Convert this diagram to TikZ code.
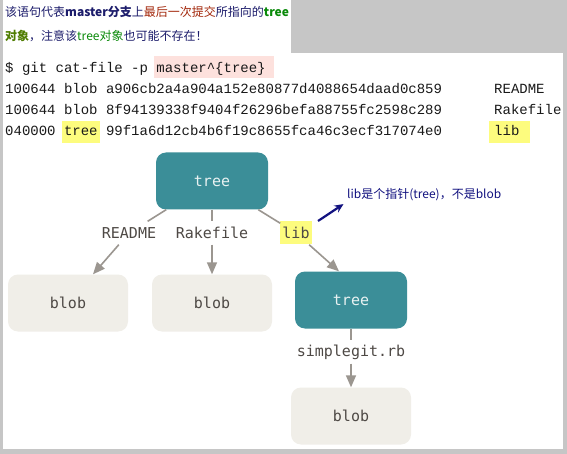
\documentclass[tikz,border=0pt]{standalone}
\usepackage{fontspec}
\usepackage{tikz}
\usetikzlibrary{arrows, arrows.meta}
\newfontfamily\cjk{Noto Sans CJK SC}
\newfontfamily\codefont{Liberation Mono}
\newfontfamily\diagfont{DejaVu Sans Mono}
\definecolor{titleNavy}{HTML}{1C1C6B}
\definecolor{titleRed}{HTML}{A3280C}
\definecolor{titleGreen}{HTML}{0A8A0A}
\definecolor{titleOlive}{HTML}{4F7D00}
\definecolor{treeTeal}{HTML}{3B8E98}
\definecolor{treeText}{HTML}{E9F2F2}
\definecolor{blobFill}{HTML}{F0EEE8}
\definecolor{inkGray}{HTML}{4E4945}
\definecolor{linkGray}{HTML}{9B9690}
\definecolor{markYellow}{HTML}{FDFC7E}
\definecolor{markPink}{HTML}{FDE1DD}
\definecolor{frameGray}{HTML}{C6C6C6}
\definecolor{noteNavy}{HTML}{121280}
\tikzstyle{treeBox} = [rectangle, rounded corners=10pt, fill=treeTeal, text=treeText,
   minimum width=112pt, minimum height=57pt, font=\diagfont\fontsize{15}{18}\selectfont]
\tikzstyle{blobBox} = [rectangle, rounded corners=10pt, fill=blobFill, text=inkGray,
   minimum width=120pt, minimum height=57pt, font=\diagfont\fontsize{15}{18}\selectfont]
\tikzstyle{edgeLabel} = [rectangle, inner sep=2pt, minimum height=23pt, text=inkGray,
   font=\diagfont\fontsize{15}{18}\selectfont]
\tikzstyle{codeLine} = [anchor=base west, inner sep=0pt, text=black!90,
   font=\codefont\fontsize{14}{16}\selectfont]
\tikzstyle{titleLine} = [anchor=base west, inner sep=0pt, text=titleNavy,
   font=\cjk\fontsize{12}{14}\selectfont]
\tikzstyle{linkLine} = [draw=linkGray, line width=1.6pt]
\tikzstyle{linkArrow} = [linkLine, -{Triangle[length=12pt,width=10pt]}]
\tikzstyle{noteArrow} = [draw=noteNavy, line width=2.2pt, -{Stealth[length=9pt,width=8pt]}, shorten >=3pt]

\begin{document}
\begin{tikzpicture}[x=1pt, y=-1pt]
  \useasboundingbox (0,0) rectangle (567,454);
  % frame and paper
  \fill[frameGray] (0,0) rectangle (567,454);
  \fill[white] (3,0) rectangle (291,53);
  \fill[white] (3,53) rectangle (563,449);

  \node[titleLine] (titleA) at (5,17) {该语句代表\textbf{master分支}上{\color{titleRed}最后一次提交}所指向的{\color{titleGreen}\textbf{tree}}};
  \node[titleLine] (titleB) at (5,41) {{\color{titleOlive}\textbf{对象}}，注意该{\color{titleGreen}tree对象}也可能不存在！};

  % highlights behind the command output
  \fill[markPink] (154,56) rectangle (274,78);
  \fill[markYellow] (61.5,121) rectangle (99.5,143);
  \fill[markYellow] (489,121) rectangle (530,143);

  \node[codeLine] (cmdLine) at (5,72.5) {\$ git cat-file -p master\textasciicircum\{tree\}};
  \node[codeLine] (rowA) at (5,93.5) {100644 blob a906cb2a4a904a152e80877d4088654daad0c859};
  \node[codeLine] (rowB) at (5,114.5) {100644 blob 8f94139338f9404f26296befa88755fc2598c289};
  \node[codeLine] (rowC) at (5,135.5) {040000 tree 99f1a6d12cb4b6f19c8655fca46c3ecf317074e0};
  \node[codeLine] (nameA) at (494,93.5) {README};
  \node[codeLine] (nameB) at (494,114.5) {Rakefile};
  \node[codeLine] (nameC) at (494,135.5) {lib};

  % tree diagram
  \node[treeBox] (rootTree) at (212,181) {tree};
  \node[edgeLabel] (readmeLbl) at (129,233) {README};
  \node[edgeLabel] (rakeLbl) at (212,233) {Rakefile};
  \node[edgeLabel, fill=markYellow] (libLbl) at (296,233) {lib};
  \node[blobBox] (readmeBlob) at (68,303) {blob};
  \node[blobBox, below of=rakeLbl, node distance=70pt] (rakeBlob) {blob};
  \node[treeBox] (libTree) at (351,300) {tree};
  \node[edgeLabel, below of=libTree, node distance=52pt] (simpleLbl) {simplegit.rb};
  \node[blobBox, below of=simpleLbl, node distance=64pt] (simpleBlob) {blob};

  \draw[linkLine] (rootTree) -- (readmeLbl);
  \draw[linkArrow] (readmeLbl) -- (readmeBlob);
  \draw[linkLine] (rootTree) -- (rakeLbl);
  \draw[linkArrow] (rakeLbl) -- (rakeBlob);
  \draw[linkLine] (rootTree) -- (libLbl);
  \draw[linkArrow] (libLbl) -- ([xshift=-12pt]libTree.north);
  \draw[linkLine] (libTree) -- (simpleLbl);
  \draw[linkArrow] (simpleLbl) -- (simpleBlob);

  % note on lib
  \node[anchor=west, inner sep=1pt, text=noteNavy, font=\cjk\fontsize{12}{14}\selectfont] (libNote) at (346,195) {lib是个指针(tree)，不是blob};
  \coordinate (noteTail) at (318,221);
  \draw[noteArrow] (noteTail) -- (libNote.south west);
\end{tikzpicture}
\end{document}
